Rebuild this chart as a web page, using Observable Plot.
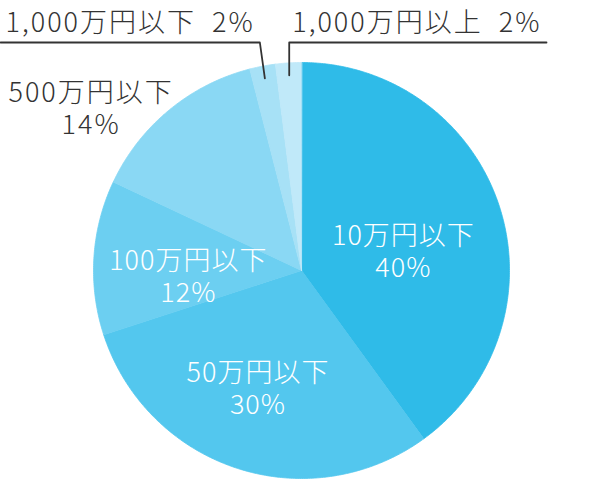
<!DOCTYPE html>
<html>
<head>
<meta charset="utf-8">
<script src="https://cdn.jsdelivr.net/npm/d3@7"></script>
<script src="https://cdn.jsdelivr.net/npm/@observablehq/plot@0.6"></script>
<style>
  html, body { margin: 0; padding: 0; background: #fff; }
  #chart { width: 600px; height: 483px; }
</style>
</head>
<body>
<div id="chart"></div>
<script>
// ---- data ----
const categories = ["10万円以下", "50万円以下", "100万円以下", "500万円以下", "1,000万円以下", "1,000万円以上"];
const shares = [40, 30, 12, 14, 2, 2];
const palette = ["#2FBBE8", "#53C7EE", "#6CCFF1", "#8AD8F4", "#A7E1F6", "#C0E9F9"];

// ---- layout ----
const W = 600, H = 483;
const cx = 301, cy = 270, R = 208;
const FONT = "'Noto Sans CJK JP', 'Noto Sans', sans-serif";
const FS = 27;
const LINE = 32;

const rows = categories.map((c, i) => ({cat: c, v: shares[i]}));
const arcs = d3.pie().value(d => d.v).sort(null)(rows);
const polar = (a, r) => ({x: cx + r * Math.sin(a), y: cy - r * Math.cos(a)});

// slice polygons
const slicePts = [];
arcs.forEach(a => {
  const n = Math.max(2, Math.ceil((a.endAngle - a.startAngle) / (Math.PI / 360)));
  slicePts.push({cat: a.data.cat, ...polar(0, 0)});
  for (let k = 0; k <= n; k++) {
    const t = a.startAngle + (a.endAngle - a.startAngle) * k / n;
    slicePts.push({cat: a.data.cat, ...polar(t, R)});
  }
});

const mid = a => (a.startAngle + a.endAngle) / 2;

// inside / near labels (radial fraction + small nudge)
const labelLayout = {
  "10万円以下":  {r: 0.5,  dx: 3,   dy: 14, inside: true},
  "50万円以下":  {r: 0.6,  dx: -5,  dy: 0,  inside: true},
  "100万円以下": {r: 0.55, dx: 1,   dy: 14, inside: true},
  "500万円以下": {r: 1.3,  dx: -38, dy: 47, inside: false}
};
const whiteLabels = [], darkLabels = [];
arcs.filter(a => labelLayout[a.data.cat]).forEach(a => {
  const L = labelLayout[a.data.cat];
  const p = polar(mid(a), L.r * R);
  const x = p.x + L.dx, y = p.y + L.dy;
  const target = L.inside ? whiteLabels : darkLabels;
  target.push({x, y: y - LINE / 2, text: a.data.cat});
  target.push({x, y: y + LINE / 2, text: a.data.v + "%"});
});

// leader-line labels for the two thin slices
const lineY = 42, labelY = 23;
const thin = arcs.filter(a => !labelLayout[a.data.cat]);
const leaderPts = [];
const topLabels = [];
thin.forEach((a, i) => {
  const p = polar(mid(a), 0.94 * R);
  const left = i === 0;
  const elbowX = left ? p.x - 5 : p.x;
  const endX = left ? 0 : 546;
  leaderPts.push({id: i, x: endX, y: lineY}, {id: i, x: elbowX, y: lineY}, {id: i, x: p.x, y: p.y});
  topLabels.push({x: left ? 5 : elbowX + 3, y: labelY, text: a.data.cat + "\u00a0\u00a0" + a.data.v + "%"});
});

const chart = Plot.plot({
  width: W,
  height: H,
  margin: 0,
  x: {domain: [0, W], range: [0, W], axis: null},
  y: {domain: [0, H], range: [0, H], axis: null},
  color: {domain: categories, range: palette},
  style: {fontFamily: FONT, background: "white"},
  marks: [
    Plot.line(slicePts, {x: "x", y: "y", z: "cat", fill: "cat", stroke: "cat", strokeWidth: 0.8, curve: "linear-closed"}),
    Plot.line(leaderPts, {x: "x", y: "y", z: "id", stroke: "#333", strokeWidth: 1.8}),
    Plot.text(whiteLabels, {x: "x", y: "y", text: "text", fill: "white", fontSize: FS, lineAnchor: "middle", fontWeight: 300, style: "letter-spacing:1px"}),
    Plot.text(darkLabels, {x: "x", y: "y", text: "text", fill: "#333", fontSize: FS, lineAnchor: "middle", fontWeight: 300}),
    Plot.text(topLabels, {x: "x", y: "y", text: "text", fill: "#333", fontSize: FS, textAnchor: "start", lineAnchor: "middle", fontWeight: 300})
  ]
});
// letter spacing per label group
const texts = chart.querySelectorAll("g[aria-label='text']");
texts.forEach((g, i) => { g.style.letterSpacing = i === 0 ? "1px" : "2px"; });
document.getElementById("chart").appendChild(chart);
</script>
</body>
</html>
